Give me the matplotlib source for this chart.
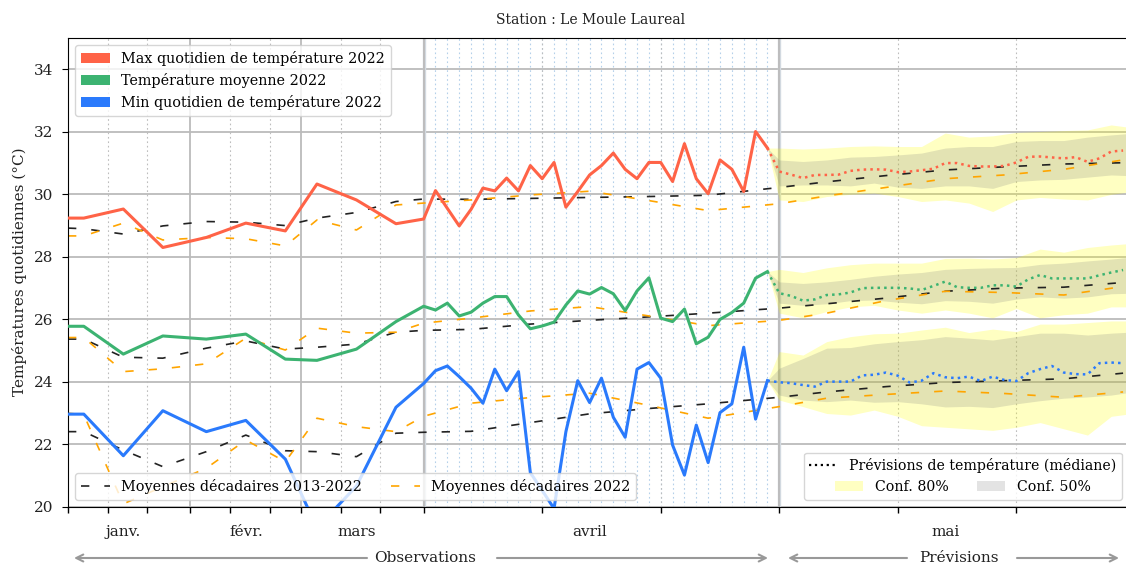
import numpy as np
import pandas as pd
import matplotlib
matplotlib.use("Agg")
import matplotlib.pyplot as plt
from matplotlib.patches import Patch
from matplotlib.lines import Line2D
from matplotlib.legend import Legend
from matplotlib.ticker import FixedLocator, NullFormatter, FixedFormatter

plt.rcParams['font.family'] = ['DejaVu Serif']

# ---------------- data ----------------
title = "Station : Le Moule Laureal"
ylabel = "Températures quotidiennes (°C)"
month_labels = ["janv.", "févr.", "mars", "avril", "mai"]

decade_dates = ["2022-01-01", "2022-01-05", "2022-01-15", "2022-01-25", "2022-02-05",
                "2022-02-15", "2022-02-25", "2022-03-05", "2022-03-15", "2022-03-25"]
april_dates = list(pd.date_range("2022-04-01", "2022-04-30").strftime("%Y-%m-%d"))

tmax_decades = [29.24, 29.24, 29.53, 28.30, 28.62, 29.08, 28.83, 30.33, 29.82, 29.06]
tmax_april = [29.21, 30.12, 29.55, 28.99, 29.52, 30.20, 30.11, 30.52, 30.11, 30.92,
              30.50, 31.02, 29.59, 30.09, 30.62, 30.92, 31.32, 30.80, 30.50, 31.02,
              31.02, 30.41, 31.62, 30.50, 30.02, 31.10, 30.80, 30.09, 32.01, 31.48]

tmean_decades = [25.78, 25.78, 24.89, 25.47, 25.37, 25.53, 24.73, 24.69, 25.05, 25.93]
tmean_april = [26.42, 26.30, 26.52, 26.11, 26.23, 26.52, 26.73, 26.73, 26.14, 25.70,
               25.79, 25.91, 26.46, 26.91, 26.81, 27.02, 26.82, 26.28, 26.91, 27.33,
               26.04, 25.93, 26.33, 25.22, 25.43, 26.00, 26.22, 26.52, 27.32, 27.53]

tmin_decades = [22.97, 22.97, 21.64, 23.08, 22.41, 22.77, 21.53, 19.33, 20.67, 23.19]
tmin_april = [23.95, 24.36, 24.51, 24.17, 23.80, 23.32, 24.41, 23.72, 24.33, 21.10,
              20.53, 19.95, 22.41, 24.04, 23.34, 24.12, 22.87, 22.23, 24.41, 24.62,
              24.12, 21.98, 21.02, 22.62, 21.42, 23.02, 23.30, 25.11, 22.81, 24.04]

# decadal normals (2013-2022) and 2022 decadal means
norm_dates = ["2022-01-01", "2022-01-05", "2022-01-15", "2022-01-25", "2022-02-05",
              "2022-02-15", "2022-02-25", "2022-03-05", "2022-03-15", "2022-03-25",
              "2022-04-01", "2022-04-05", "2022-04-10", "2022-04-15", "2022-04-20",
              "2022-04-25", "2022-05-01", "2022-05-05", "2022-05-10", "2022-05-15",
              "2022-05-20", "2022-05-25", "2022-05-30"]
norm_max = [28.92, 28.90, 28.73, 28.99, 29.13, 29.11, 29.00, 29.24, 29.42, 29.77,
            29.85, 29.84, 29.87, 29.90, 29.93, 29.97, 30.22, 30.40, 30.60, 30.78,
            30.88, 30.97, 31.01]
dec22_max = [28.67, 28.67, 29.08, 28.54, 28.62, 28.58, 28.35, 29.18, 28.86, 29.66,
             29.72, 29.82, 29.98, 30.10, 29.80, 29.48, 29.70, 29.95, 30.22, 30.50,
             30.62, 30.80, 31.10]
norm_mean = [25.37, 25.37, 24.79, 24.76, 25.08, 25.31, 25.05, 25.11, 25.21, 25.59,
             25.65, 25.68, 25.85, 25.97, 26.08, 26.20, 26.36, 26.50, 26.68, 26.90,
             27.00, 27.03, 27.18]
dec22_mean = [25.42, 25.42, 24.33, 24.42, 24.58, 25.40, 25.02, 25.72, 25.56, 25.59,
              25.88, 26.04, 26.27, 26.41, 26.11, 25.80, 25.97, 26.20, 26.60, 26.90,
              26.86, 26.78, 27.05]
norm_min = [22.41, 22.41, 21.82, 21.29, 21.77, 22.30, 21.80, 21.77, 21.61, 22.36,
            22.39, 22.42, 22.70, 22.98, 23.15, 23.30, 23.51, 23.68, 23.85, 23.98,
            24.04, 24.10, 24.28]
dec22_min = [23.00, 22.95, 20.10, 20.65, 21.24, 22.14, 21.45, 22.84, 22.57, 22.41,
             22.90, 23.32, 23.50, 23.64, 23.25, 22.84, 23.21, 23.48, 23.60, 23.71,
             23.63, 23.51, 23.68]

# forecasts (median), Apr 30 -> May 30
fc_dates = list(pd.date_range("2022-04-30", "2022-05-30").strftime("%Y-%m-%d"))
fc_max = [31.48, 30.73, 30.63, 30.52, 30.62, 30.62, 30.63, 30.75, 30.79, 30.80, 30.79,
          30.71, 30.73, 30.77, 30.82, 31.00, 31.00, 30.91, 30.89, 30.89, 30.91,
          31.02, 31.20, 31.21, 31.18, 31.15, 31.19, 31.04, 31.15, 31.37, 31.40]
fc_mean = [27.53, 26.84, 26.75, 26.60, 26.64, 26.78, 26.80, 26.86, 27.00, 27.01, 27.01,
           27.01, 26.99, 26.94, 27.07, 27.21, 27.03, 27.01, 27.01, 27.09, 27.09,
           27.05, 27.28, 27.42, 27.31, 27.31, 27.31, 27.31, 27.41, 27.50, 27.58]
fc_min = [24.04, 23.99, 23.96, 23.90, 23.85, 24.01, 24.01, 24.01, 24.21, 24.23, 24.30,
          24.20, 23.98, 24.04, 24.28, 24.15, 24.12, 24.17, 24.03, 24.17, 24.06,
          24.03, 24.28, 24.41, 24.51, 24.30, 24.25, 24.24, 24.60, 24.62, 24.60]

# confidence bands
band_dates = ["2022-04-30", "2022-05-01", "2022-05-03", "2022-05-05", "2022-05-07",
              "2022-05-09", "2022-05-11", "2022-05-13", "2022-05-15", "2022-05-17",
              "2022-05-19", "2022-05-21", "2022-05-23", "2022-05-25", "2022-05-27",
              "2022-05-29", "2022-05-31"]
max_q90 = [31.48, 31.48, 31.45, 31.48, 31.53, 31.55, 31.53, 31.53, 31.96, 31.83, 31.87,
           31.98, 32.01, 32.04, 32.06, 32.22, 32.12]
max_q10 = [31.48, 29.82, 29.77, 29.93, 30.00, 30.04, 29.93, 29.77, 29.82, 29.72, 29.45,
           29.82, 29.90, 29.85, 29.82, 30.00, 30.10]
max_q75 = [31.48, 31.10, 31.05, 31.10, 31.19, 31.21, 31.26, 31.32, 31.48, 31.53, 31.53,
           31.69, 31.72, 31.72, 31.83, 31.90, 31.96]
max_q25 = [31.48, 30.27, 30.30, 30.30, 30.27, 30.36, 30.23, 30.19, 30.27, 30.27, 30.19,
           30.41, 30.46, 30.48, 30.55, 30.62, 30.59]
mean_q90 = [27.53, 27.60, 27.50, 27.65, 27.75, 27.80, 27.80, 27.80, 27.95, 27.96, 27.93,
            27.98, 28.25, 28.15, 28.30, 28.38, 28.44]
mean_q10 = [27.53, 26.20, 26.05, 26.25, 26.40, 26.45, 26.30, 26.20, 26.30, 26.20, 26.05,
            26.35, 26.05, 26.15, 26.20, 26.40, 26.40]
mean_q75 = [27.53, 27.20, 27.15, 27.20, 27.28, 27.38, 27.45, 27.50, 27.60, 27.63, 27.65,
            27.66, 27.76, 27.80, 27.87, 27.93, 28.00]
mean_q25 = [27.53, 26.52, 26.45, 26.50, 26.60, 26.62, 26.55, 26.50, 26.60, 26.58, 26.52,
            26.65, 26.72, 26.68, 26.72, 26.82, 26.84]
min_q90 = [24.04, 24.97, 24.86, 25.29, 25.45, 25.54, 25.56, 25.66, 25.75, 25.58, 25.69,
           25.61, 25.85, 25.85, 25.90, 25.95, 25.95]
min_q10 = [24.04, 23.42, 23.21, 22.99, 22.94, 23.10, 22.90, 22.60, 22.55, 22.50, 22.45,
           22.55, 22.70, 22.50, 22.30, 22.90, 23.00]
min_q75 = [24.04, 24.44, 24.75, 25.08, 25.10, 25.22, 25.29, 25.35, 25.45, 25.40, 25.34,
           25.45, 25.56, 25.56, 25.50, 25.56, 25.60]
min_q25 = [24.04, 23.58, 23.42, 23.37, 23.42, 23.35, 23.37, 23.30, 23.20, 23.22, 23.18,
           23.30, 23.40, 23.48, 23.52, 23.58, 23.69]

# ---------------- helpers ----------------
ORIGIN = pd.Timestamp("2022-01-01")
BREAK = 90.0  # 1 April -> daily part drawn 3x wider


def doy(dates):
    return ((pd.to_datetime(dates) - ORIGIN) / pd.Timedelta(days=1)).to_numpy(dtype=float)


def fwd(d):
    d = np.asarray(d, dtype=float)
    return np.where(d < BREAK, d, BREAK + 3.0 * (d - BREAK))


def inv(u):
    u = np.asarray(u, dtype=float)
    return np.where(u < BREAK, u, BREAK + (u - BREAK) / 3.0)


C_MAX = "#ff6347"
C_MEAN = "#3cb371"
C_MIN = "#2a7afc"
C_NORM = "#222222"
C_22 = "#ffa500"
DASH = (0, (5, 9))

W, H = 1126, 565
fig = plt.figure(figsize=(W / 100, H / 100), dpi=100)
ax = fig.add_axes([68 / W, (H - 507) / H, (1129 - 68) / W, (507 - 38) / H])
ax.set_xscale("function", functions=(fwd, inv))
ax.set_xlim(0, 149.5)
ax.set_ylim(20, 35)

# vertical guide lines
month_starts = doy(["2022-02-01", "2022-03-01", "2022-04-01", "2022-05-01"])
decade_marks = doy([f"2022-{m:02d}-{d}" for m in range(1, 6) for d in (11, 21)])
april_days = doy(list(pd.date_range("2022-04-01", "2022-05-01").strftime("%Y-%m-%d")))
for x in april_days:
    ax.axvline(x, color="#b4d0ea", lw=0.8, ls=(0, (1.5, 2.5)), zorder=0.5)
for x in decade_marks:
    ax.axvline(x, color="#bdbdbd", lw=0.8, ls=(0, (1.5, 2.5)), zorder=0.6)
for x in month_starts:
    ax.axvline(x, color="#bbbbbb", lw=1.3, zorder=0.6)
for x in doy(["2022-04-01", "2022-05-01"]):
    ax.axvline(x, color="#d2d9e0", lw=2.4, zorder=0.55)

ax.set_yticks([20, 22, 24, 26, 28, 30, 32, 34])
ax.grid(axis="y", color="#bbbbbb", lw=1.3, zorder=0.6)
ax.set_axisbelow(True)

# bands
bx = doy(band_dates)
for q90, q10, q75, q25 in [(max_q90, max_q10, max_q75, max_q25),
                           (mean_q90, mean_q10, mean_q75, mean_q25),
                           (min_q90, min_q10, min_q75, min_q25)]:
    ax.fill_between(bx, q10, q90, color="yellow", alpha=0.24, lw=0, zorder=1)
    ax.fill_between(bx, q25, q75, color="gray", alpha=0.22, lw=0, zorder=1.1)

# normals
nx = doy(norm_dates)
for arr in (norm_max, norm_mean, norm_min):
    ax.plot(nx, arr, color=C_NORM, lw=1.2, ls=DASH, zorder=2)
for arr in (dec22_max, dec22_mean, dec22_min):
    ax.plot(nx, arr, color=C_22, lw=1.2, ls=DASH, zorder=2)

# observations
ox = doy(decade_dates + april_dates)
ax.plot(ox, tmax_decades + tmax_april, color=C_MAX, lw=2.2, zorder=3)
ax.plot(ox, tmean_decades + tmean_april, color=C_MEAN, lw=2.2, zorder=3)
ax.plot(ox, tmin_decades + tmin_april, color=C_MIN, lw=2.2, zorder=3)

# forecasts
fx = doy(fc_dates)
ax.plot(fx, fc_max, color=C_MAX, lw=1.8, ls=":", zorder=3)
ax.plot(fx, fc_mean, color=C_MEAN, lw=1.8, ls=":", zorder=3)
ax.plot(fx, fc_min, color=C_MIN, lw=1.8, ls=":", zorder=3)

# ticks
tick_dates = [f"2022-{m:02d}-{d:02d}" for m in range(1, 6) for d in (1, 11, 21)]
ax.xaxis.set_major_locator(FixedLocator(doy(tick_dates)))
ax.xaxis.set_major_formatter(NullFormatter())
ax.xaxis.set_minor_locator(FixedLocator(doy([f"2022-{m:02d}-15" for m in range(1, 6)])))
ax.xaxis.set_minor_formatter(FixedFormatter(month_labels))
ax.tick_params(axis="x", which="minor", length=0, pad=13, labelsize=11, colors="#222222")
ax.tick_params(axis="x", which="major", length=4, width=1)
ax.tick_params(axis="y", which="major", length=4.5, labelsize=11, pad=6, labelcolor="#222222")
ax.spines["right"].set_visible(False)

# legends
FS = 10.35
leg1 = ax.legend(handles=[Patch(facecolor=C_MAX, label="Max quotidien de température 2022"),
                          Patch(facecolor=C_MEAN, label="Température moyenne 2022"),
                          Patch(facecolor=C_MIN, label="Min quotidien de température 2022")],
                 loc="upper left", fontsize=FS)
ax.add_artist(leg1)
leg2 = ax.legend(handles=[Line2D([], [], color=C_NORM, lw=1.2, ls=DASH,
                                 label="Moyennes décadaires 2013-2022"),
                          Line2D([], [], color=C_22, lw=1.2, ls=DASH,
                                 label="Moyennes décadaires 2022")],
                 loc="lower left", ncol=2, fontsize=FS)
ax.add_artist(leg2)
FS3 = 10.2
leg3 = ax.legend(handles=[Line2D([], [], color="black", lw=1.6, ls=":")],
                 labels=["Prévisions de température (médiane)"],
                 loc="lower right", fontsize=FS3)
leg3b = Legend(ax, [Patch(facecolor="yellow", alpha=0.24), Patch(facecolor="gray", alpha=0.22)],
               ["Conf. 80%", "Conf. 50%"], ncol=2, fontsize=FS3)
leg3._legend_box._children.append(leg3b._legend_handle_box)

# texts
fig.text(590.5 / W, 1 - 20 / H, title, ha="center", va="center", fontsize=10, color="#222222")
fig.text(20 / W, 1 - 272 / H, ylabel, ha="center", va="center", rotation=90, fontsize=11,
         color="#222222")


def arrow(x_tail, x_head, y):
    ax.annotate("", xy=(x_head, H - y), xycoords="figure pixels",
                xytext=(x_tail, H - y), textcoords="figure pixels",
                arrowprops=dict(arrowstyle="->,head_length=0.5,head_width=0.25",
                                color="#999999", lw=1.5, shrinkA=0, shrinkB=0),
                annotation_clip=False)


fig.text(425 / W, 1 - 558 / H, "Observations", ha="center", va="center", fontsize=11,
         color="#222222")
arrow(367, 74, 558)
arrow(497, 768, 558)
fig.text(959 / W, 1 - 558 / H, "Prévisions", ha="center", va="center", fontsize=11,
         color="#222222")
arrow(907, 788, 558)
arrow(1017, 1119, 558)

fig.savefig("out.png", dpi=100)
